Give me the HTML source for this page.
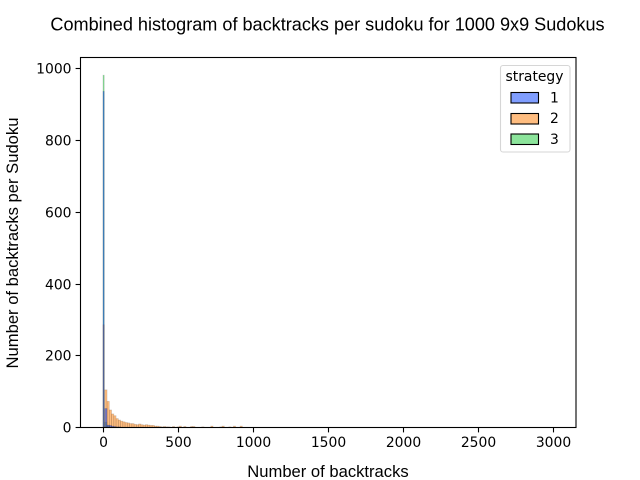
<!DOCTYPE html>
<html>
<head>
<meta charset="utf-8">
<style>
html,body{margin:0;padding:0;background:#fff;width:640px;height:480px;overflow:hidden}
svg{display:block}
text{fill:#000}
.tick{font-family:"DejaVu Sans",sans-serif;font-size:13.9px}
.label{font-family:"Liberation Sans",sans-serif}
</style>
</head>
<body>
<svg id="chart" width="640" height="480" viewBox="0 0 640 480" xmlns="http://www.w3.org/2000/svg">
<rect x="0" y="0" width="640" height="480" fill="#fff"/>
<text class="label" x="327.5" y="30.5" font-size="18.1" text-anchor="middle">Combined histogram of backtracks per sudoku for 1000 9x9 Sudokus</text>
<text class="label" x="328" y="477" font-size="16.6" text-anchor="middle">Number of backtracks</text>
<text class="label" x="0" y="0" font-size="16.6" text-anchor="middle" transform="translate(18 243) rotate(-90)">Number of backtracks per Sudoku</text>
<g id="bars"></g>
<rect x="80.5" y="57.5" width="495.5" height="370" fill="none" stroke="#000" stroke-width="1.1"/>
<g id="x-ticks"></g>
<g id="y-ticks"></g>
<g>
<rect x="500.5" y="65.5" width="69.5" height="86.5" rx="2.5" fill="#fff" fill-opacity="0.8" stroke="#d6d6d6" stroke-width="1.1"/>
<text class="tick" x="534.5" y="81" text-anchor="middle">strategy</text>
<rect x="511" y="92.5" width="27.5" height="10.5" fill="#809eff" stroke="#000" stroke-width="1.1"/>
<text class="tick" x="550" y="102.5">1</text>
<rect x="511" y="113.5" width="27.5" height="10.5" fill="#ffbd80" stroke="#000" stroke-width="1.1"/>
<text class="tick" x="550" y="123">2</text>
<rect x="511" y="134" width="27.5" height="10.5" fill="#8ce49b" stroke="#000" stroke-width="1.1"/>
<text class="tick" x="550" y="144">3</text>
</g>
</svg>
<script>
const binWidth = 15;
const binCount = 200;
const xTickValues = [0, 500, 1000, 1500, 2000, 2500, 3000];
const yTickValues = [0, 200, 400, 600, 800, 1000];
const strategy1Counts = [935, 52, 6, 5, 3, 2, 1, 1];
const strategy2Counts = [285, 104, 72, 48, 37, 32, 24, 20, 17, 15, 13, 12, 10, 10, 8, 7, 9, 7, 6, 7, 6, 5, 5, 3, 3, 2, 1, 2, 1, 1, 0, 2, 0, 1, 3, 0, 2, 0, 0, 2, 2, 0, 0, 0, 1, 0, 0, 0, 3, 0, 0, 0, 1, 3, 0, 0, 1, 0, 3, 0, 0, 3];
const strategy3Counts = [980, 14, 4, 1];

const svgNS = 'http://www.w3.org/2000/svg';
const plotLeft = 80, plotRight = 576, plotTop = 57.6, plotBottom = 427.2;
const xMin = -150, xMax = 3150, yMin = 0, yMax = 1029;
function xScale(v) { return plotLeft + (v - xMin) / (xMax - xMin) * (plotRight - plotLeft); }
function yScale(v) { return plotBottom - (v - yMin) / (yMax - yMin) * (plotBottom - plotTop); }

function drawSeries(counts, color, name) {
  const group = document.getElementById('bars');
  const g = document.createElementNS(svgNS, 'g');
  
  
  for (let i = 0; i < binCount; i++) {
    const c = counts[i] || 0;
    const start = i === 0 ? 3 : i * binWidth;
    const end = i === 0 ? 11 : (i + 1) * binWidth;
    const r = document.createElementNS(svgNS, 'rect');
    
    
    r.setAttribute('x', xScale(start));
    r.setAttribute('y', yScale(c));
    r.setAttribute('width', xScale(end) - xScale(start));
    r.setAttribute('height', yScale(0) - yScale(c));
    r.setAttribute('fill', color);
    r.setAttribute('fill-opacity', '0.5');
    r.setAttribute('stroke', '#000');
    r.setAttribute('stroke-opacity', '0.14');
    r.setAttribute('stroke-width', '0.8');
    g.appendChild(r);
  }
  group.appendChild(g);
}
drawSeries(strategy3Counts, '#1ac938', 'series-strategy-3');
drawSeries(strategy2Counts, '#ff7c00', 'series-strategy-2');
drawSeries(strategy1Counts, '#023eff', 'series-strategy-1');

const xTicks = document.getElementById('x-ticks');
xTickValues.forEach(function (v) {
  const px = Math.round(xScale(v)) + 0.5;
  const l = document.createElementNS(svgNS, 'line');
  
  
  l.setAttribute('x1', px);
  l.setAttribute('x2', px);
  l.setAttribute('y1', 427.5);
  l.setAttribute('y2', 432.4);
  l.setAttribute('stroke', '#000');
  l.setAttribute('stroke-width', '1.1');
  xTicks.appendChild(l);
  const t = document.createElementNS(svgNS, 'text');
  
  
  t.setAttribute('class', 'tick');
  t.setAttribute('x', px);
  t.setAttribute('y', 447);
  t.setAttribute('text-anchor', 'middle');
  t.textContent = v;
  xTicks.appendChild(t);
});

const yTicks = document.getElementById('y-ticks');
yTickValues.forEach(function (v) {
  const py = Math.round(yScale(v)) + 0.5;
  const l = document.createElementNS(svgNS, 'line');
  
  
  l.setAttribute('x1', 75.6);
  l.setAttribute('x2', 80.5);
  l.setAttribute('y1', py);
  l.setAttribute('y2', py);
  l.setAttribute('stroke', '#000');
  l.setAttribute('stroke-width', '1.1');
  yTicks.appendChild(l);
  const t = document.createElementNS(svgNS, 'text');
  
  
  t.setAttribute('class', 'tick');
  t.setAttribute('x', 71.5);
  t.setAttribute('y', py + 5);
  t.setAttribute('text-anchor', 'end');
  t.textContent = v;
  yTicks.appendChild(t);
});
</script>
</body>
</html>
